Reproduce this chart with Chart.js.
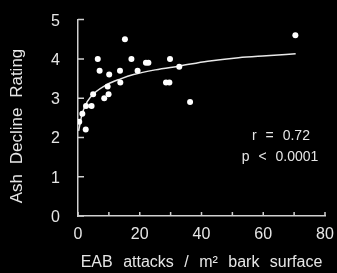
<!DOCTYPE html>
<html>
<head>
<meta charset="utf-8">
<script src="https://cdn.jsdelivr.net/npm/chart.js@4"></script>
<style>
  html, body { margin: 0; padding: 0; background: #000; }
  canvas { display: block; }
</style>
</head>
<body>
<canvas id="chart" width="337" height="273"></canvas>
<script>
// EAB attacks per m2 vs ash decline rating
const attacksX = [0.4, 1.4, 2.5, 2.6, 4.4, 4.9, 6.4, 7.0, 8.5, 9.6, 9.9, 10.1, 13.6,
                  13.7, 15.2, 17.3, 19.3, 22.0, 22.8, 28.5, 29.6, 29.8, 32.8, 36.3, 70.4];
const declineY = [2.4, 2.6, 2.2, 2.8, 2.8, 3.1, 4.0, 3.7, 3.0, 3.3, 3.1, 3.6, 3.7,
                  3.4, 4.5, 4.0, 3.7, 3.9, 3.9, 3.4, 3.4, 4.0, 3.8, 2.9, 4.6];

// fitted curve
const fitX = [0.2, 1.4, 3.0, 5.2, 9.5, 13.8, 18, 25, 33, 42, 52, 61, 70.5];
const fitY = [2.17, 2.62, 2.91, 3.12, 3.35, 3.49, 3.60, 3.72, 3.82, 3.94, 4.03, 4.08, 4.13];

const xTicks = [0, 20, 40, 60, 80];
const yTicks = [0, 1, 2, 3, 4, 5];
const statLines = ['r = 0.72', 'p < 0.0001'];
const xTitle = 'EAB attacks / m\u00B2 bark surface';
const yTitle = 'Ash Decline Rating';

const textColor = '#e6e6e6';
const axisColor = '#cfcfcf';
const fontFamily = '"Liberation Sans", Arial, sans-serif';

Chart.defaults.font.family = fontFamily;
Chart.defaults.color = textColor;

const points = attacksX.map((x, i) => ({ x: x, y: declineY[i] }));
const curve = fitX.map((x, i) => ({ x: x, y: fitY[i] }));

// inner tick marks + titles + stats text
const extras = {
    id: 'extras',
    afterDraw(chart) {
        const ctx = chart.ctx;
        const xs = chart.scales.x, ys = chart.scales.y;
        const area = chart.chartArea;
        ctx.save();
        ctx.strokeStyle = axisColor;
        ctx.lineWidth = 1.5;
        ctx.beginPath();
        for (let v = 0; v <= 80; v += 10) {
            const px = xs.getPixelForValue(v);
            ctx.moveTo(px, area.bottom);
            ctx.lineTo(px, area.bottom - 4);
        }
        yTicks.forEach(v => {
            const py = ys.getPixelForValue(v);
            ctx.moveTo(area.left, py);
            ctx.lineTo(area.left + 6, py);
        });
        ctx.stroke();

        ctx.fillStyle = textColor;
        ctx.textAlign = 'center';
        ctx.textBaseline = 'middle';

        ctx.wordSpacing = '6px';
        ctx.font = '16px ' + fontFamily;
        ctx.fillText(xTitle, (area.left + area.right) / 2, 263);

        ctx.save();
        ctx.translate(17, 126);
        ctx.rotate(-Math.PI / 2);
        ctx.wordSpacing = '5px';
        ctx.font = '17px ' + fontFamily;
        ctx.fillText(yTitle, 0, 0);
        ctx.restore();

        ctx.wordSpacing = '5px';
        ctx.font = '14px ' + fontFamily;
        ctx.fillText(statLines[0], 281, 136);
        ctx.fillText(statLines[1], 280, 157);
        ctx.restore();
    }
};

new Chart(document.getElementById('chart'), {
    type: 'scatter',
    data: {
        datasets: [{
            data: points,
            pointRadius: 3,
            pointHoverRadius: 3,
            backgroundColor: '#ffffff',
            borderWidth: 0
        }, {
            data: curve,
            showLine: true,
            pointRadius: 0,
            borderColor: '#e8e8e8',
            borderWidth: 1.5,
            cubicInterpolationMode: 'monotone'
        }]
    },
    options: {
        responsive: false,
        animation: false,
        layout: { padding: { top: 14, right: 12, left: 0, bottom: 0 } },
        plugins: { legend: { display: false }, tooltip: { enabled: false } },
        scales: {
            x: {
                min: 0, max: 80,
                grid: { display: false },
                border: { display: true, color: axisColor, width: 1.5 },
                afterBuildTicks: s => { s.ticks = xTicks.map(v => ({ value: v })); },
                afterFit: s => { s.height = 57; },
                ticks: { font: { size: 16 }, padding: 1, maxRotation: 0, autoSkip: false }
            },
            y: {
                min: 0, max: 5,
                grid: { display: false },
                border: { display: true, color: axisColor, width: 1.5 },
                afterBuildTicks: s => { s.ticks = yTicks.map(v => ({ value: v })); },
                afterFit: s => { s.width = 78; },
                ticks: { font: { size: 16 }, padding: 10, labelOffset: 1.5 }
            }
        }
    },
    plugins: [extras]
});
</script>
</body>
</html>
